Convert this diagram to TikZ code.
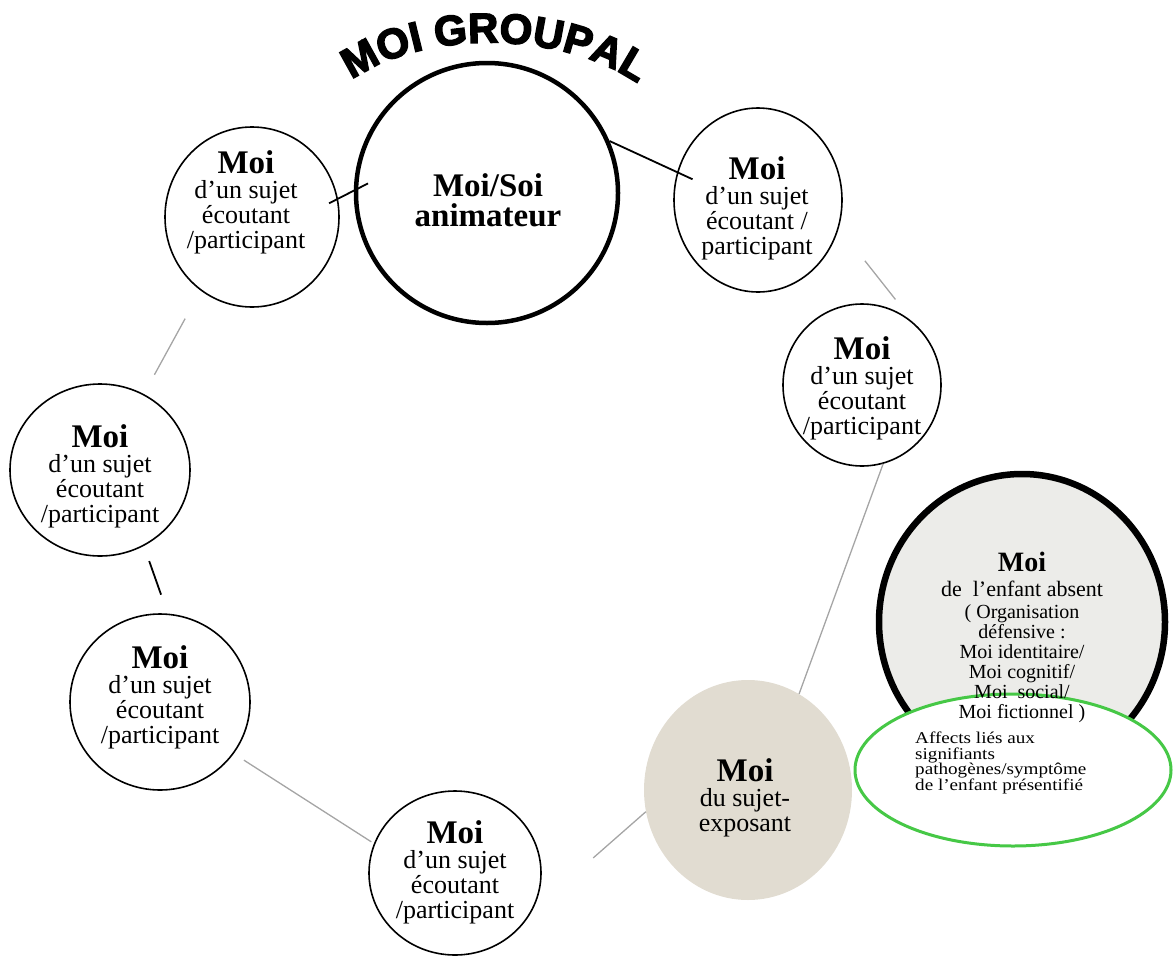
\documentclass[tikz,border=0pt]{standalone}
\usepackage{fontspec}
\setmainfont{Liberation Serif}
\newfontfamily\titlefont[FakeBold=3.5]{Liberation Sans}
\newfontfamily\afffamily[FakeStretch=1.16]{Liberation Serif}
\usetikzlibrary{shapes.geometric,decorations.text}

\definecolor{sand}{RGB}{225,220,209}
\definecolor{stone}{RGB}{236,236,233}
\definecolor{linkgrey}{RGB}{165,165,165}
\definecolor{affgreen}{RGB}{70,200,70}

\newcommand{\moifont}{\fontsize{26}{25}\selectfont\lineskiplimit=-20pt\relax}
\newcommand{\absfont}{\fontsize{20}{20}\selectfont\lineskiplimit=-20pt\relax}
\newcommand{\afffont}{\afffamily\fontsize{16.5}{15.7}\selectfont\lineskiplimit=-20pt\relax}
\newcommand{\bigmoi}{{\bfseries\fontsize{33}{33}\selectfont Moi}}

\tikzset{
  sujet/.style={draw, ellipse, line width=1.6pt, fill=white, inner sep=0pt},
  moitxt/.style={align=center, inner sep=0pt, font=\moifont},
  link/.style={line width=1.8pt},
  greylink/.style={linkgrey, line width=1.3pt},
}

\begin{document}
\begin{tikzpicture}[x=1pt, y=-1pt]
\useasboundingbox (0,0) rectangle (1173,956);

% title on an arch
\coordinate (ttl-a) at (335,94);
\coordinate (ttl-b) at (405,25);
\coordinate (ttl-c) at (575,25);
\coordinate (ttl-d) at (655,97);
\path[decorate, decoration={text along path, text align=center,
  text={|\titlefont\bfseries\fontsize{42}{42}\selectfont|MOI GROUPAL}}]
  (ttl-a) .. controls (ttl-b) and (ttl-c) .. (ttl-d);

% the circles
\node[sujet, line width=4.5pt, minimum width=262, minimum height=260] (anim) at (487,193) {};
\node[sujet, minimum width=174, minimum height=180] (tl) at (252,217) {};
\node[sujet, minimum width=168, minimum height=184] (tr) at (758,200) {};
\node[sujet, minimum width=158, minimum height=162] (rm) at (862,385) {};
\node[sujet, minimum width=180, minimum height=172] (lm) at (100,470) {};
\node[sujet, minimum width=180, minimum height=176] (bl) at (160,702) {};
\node[sujet, minimum width=172, minimum height=164] (bc) at (455,873) {};
\node[ellipse, fill=sand, inner sep=0pt, minimum width=208, minimum height=220] (se) at (748,790) {};
\node[sujet, fill=stone, line width=6.5pt, minimum width=286, minimum height=296] (ea) at (1022,622) {};
\node[sujet, draw=affgreen, line width=3pt, minimum width=316, minimum height=152] (af) at (1013,770) {};

% links
\draw[link, shorten <=-10, shorten >=-16] (tl.12) -- (anim.179);
\draw[link, shorten >=-17] (anim.23) -- (tr.161);
\draw[greylink, shorten <=42, shorten >=30] (tr.-19) -- (rm.50);
\draw[greylink, shorten <=32, shorten >=22] (tl.-125) -- (lm.60);
\draw[link, shorten <=16, shorten >=20] (lm.-60) -- (bl.85);
\draw[greylink, shorten <=12, shorten >=3] (bl.-35) -- (bc.160);
\draw[greylink, shorten <=82] (bc.-27) -- (se.192);
\draw[greylink] (rm.-75) -- (se.62);

% texts
\node[moitxt, font=\bfseries\fontsize{33}{30}\selectfont] (anim-t) at (488,200) {Moi/Soi\\animateur};
\node[moitxt] (tl-t) at (246,202) {\bigmoi\\d’un sujet\\écoutant\\/participant};
\node[moitxt] (tr-t) at (757,208) {\bigmoi\\d’un sujet\\écoutant /\\participant};
\node[moitxt] (rm-t) at (862,388) {\bigmoi\\d’un sujet\\écoutant\\/participant};
\node[moitxt] (lm-t) at (100,476) {\bigmoi\\d’un sujet\\écoutant\\/participant};
\node[moitxt] (bl-t) at (160,697) {\bigmoi\\d’un sujet\\écoutant\\/participant};
\node[moitxt] (bc-t) at (455,872) {\bigmoi\\d’un sujet\\écoutant\\/participant};
\node[moitxt] (se-t) at (745,798) {\bigmoi\\du sujet-\\exposant};
\node[moitxt, font=\absfont] (ea-t) at (1022,637)
  {{\bfseries\fontsize{28}{28}\selectfont Moi}\\[5pt]
   {\fontsize{22}{22}\selectfont de~~l’enfant absent}\\[2pt]
   ( Organisation\\défensive :\\Moi identitaire/\\Moi cognitif/\\Moi~~social/\\Moi fictionnel )};
\node[align=left, inner sep=0pt, anchor=west, font=\afffont] (af-t) at (915,763)
  {Affects liés aux\\signifiants\\pathogènes/symptôme\\de l’enfant présentifié};
\end{tikzpicture}
\end{document}
